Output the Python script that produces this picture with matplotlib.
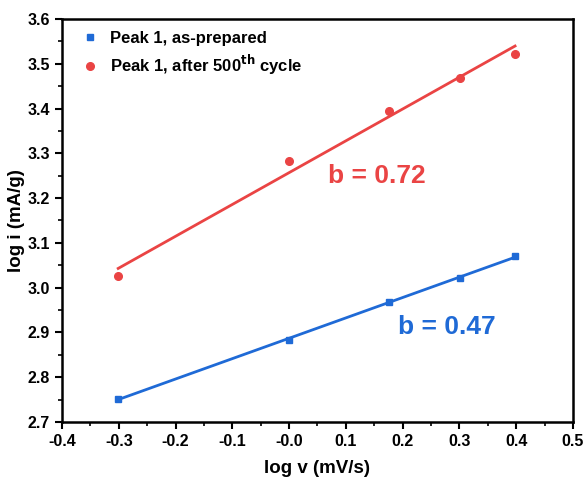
import numpy as np
import matplotlib.pyplot as plt

plt.rcParams['font.family'] = ['Liberation Sans', 'DejaVu Sans']
plt.rcParams['font.weight'] = 'bold'

# data: log scan rate vs log peak current
log_v = [-0.301, 0.0, 0.176, 0.301, 0.398]
prepared = [2.752, 2.884, 2.967, 3.022, 3.071]
cycled = [3.025, 3.282, 3.394, 3.469, 3.522]

blue = '#1f6ad6'
red = '#ea4444'

fig = plt.figure(figsize=(5.87, 4.83), dpi=100)
ax = fig.add_axes([0.1056, 0.1263, 0.8705, 0.8344])

ax.plot(log_v, prepared, 's', color=blue, ms=5, label='Peak 1, as-prepared')
ax.plot(log_v, cycled, 'o', color=red, ms=5.5, label='Peak 1, after 500$^{\\mathbf{th}}$ cycle')

# linear fits
for y, c in [(prepared, blue), (cycled, red)]:
    k, b0 = np.polyfit(log_v, y, 1)
    xx = np.array([log_v[0], log_v[-1]])
    ax.plot(xx, k * xx + b0, '-', color=c, lw=2)

ax.text(0.068, 3.25, 'b = 0.72', color=red, fontsize=19, fontweight='bold', va='center')
ax.text(0.192, 2.912, 'b = 0.47', color=blue, fontsize=19, fontweight='bold', va='center')

ax.set_xlim(-0.4, 0.5)
ax.set_ylim(2.7, 3.6)
ax.set_xticks(np.arange(-0.4, 0.51, 0.1))
ax.set_yticks(np.arange(2.7, 3.61, 0.1))
ax.set_xticks(np.arange(-0.35, 0.5, 0.1), minor=True)
ax.set_yticks(np.arange(2.75, 3.6, 0.1), minor=True)
ax.set_xticklabels(['%.1f' % t for t in np.arange(-0.4, 0.51, 0.1)])
ax.set_yticklabels(['%.1f' % t for t in np.arange(2.7, 3.61, 0.1)])
ax.tick_params(which='major', direction='out', length=5, width=1.5, labelsize=11.5)
ax.tick_params(which='minor', direction='out', length=3, width=1.2)
for s in ax.spines.values():
    s.set_linewidth(1.8)

ax.set_xlabel('log v (mV/s)', fontsize=13.5, fontweight='bold', labelpad=8)
ax.set_ylabel('log i (mA/g)', fontsize=13.5, fontweight='bold', labelpad=2)

ax.legend(loc='upper left', frameon=False, handletextpad=0.2, labelspacing=0.45,
          borderaxespad=0.3, prop={'weight': 'bold', 'size': 12})

fig.savefig('out.png', dpi=100)
